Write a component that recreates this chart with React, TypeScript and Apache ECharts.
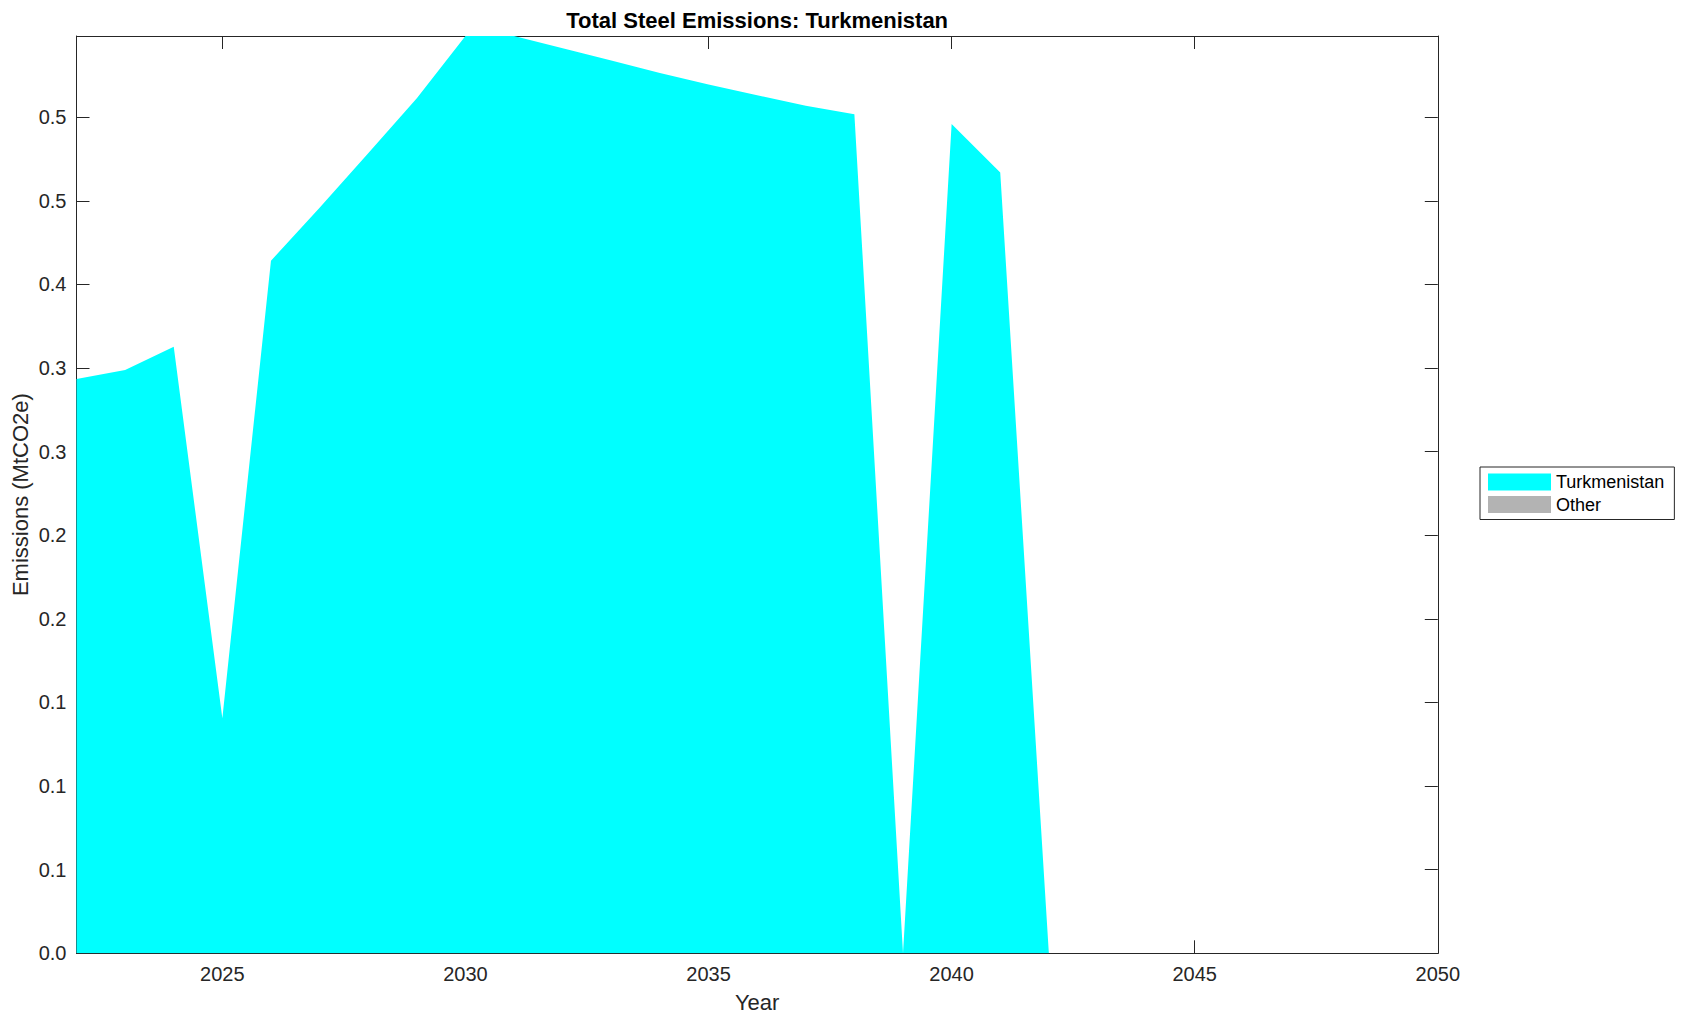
import React, { useEffect, useRef } from "react";
import * as echarts from "echarts";

const years = [
  2022, 2023, 2024, 2025, 2026, 2027, 2028, 2029, 2030, 2031, 2032, 2033, 2034, 2035, 2036,
  2037, 2038, 2039, 2040, 2041, 2042, 2043, 2044, 2045, 2046, 2047, 2048, 2049, 2050,
];
const turkmenistan = [
  0.3435, 0.3489, 0.3628, 0.1406, 0.4142, 0.4459, 0.4785, 0.5114, 0.5486, 0.5486, 0.5413,
  0.5339, 0.5264, 0.5196, 0.5132, 0.5069, 0.5018, 0, 0.4959, 0.4669, 0, 0, 0, 0, 0, 0, 0, 0, 0,
];
const other = [
  0, 0, 0, 0, 0, 0, 0, 0, 0, 0, 0, 0, 0, 0, 0, 0, 0, 0, 0, 0, 0, 0, 0, 0, 0, 0, 0, 0, 0,
];
const xTickValues = [2025, 2030, 2035, 2040, 2045, 2050];
const yTickValues = [0, 0.05, 0.1, 0.15, 0.2, 0.25, 0.3, 0.35, 0.4, 0.45, 0.5];
const yTickLabels = ["0.0", "0.1", "0.1", "0.1", "0.2", "0.2", "0.3", "0.3", "0.4", "0.5", "0.5"];
const seriesNames = ["Turkmenistan", "Other"];
const seriesColors = ["#00FFFF", "#B3B3B3"];
const titleText = "Total Steel Emissions: Turkmenistan";
const xName = "Year";
const yName = "Emissions (MtCO2e)";

const FONT = "'Liberation Sans', Arial, Helvetica, sans-serif";
const AX = "#262626";
const W = 1691;
const H = 1021;
const GL = 76.5;
const GR = 1437.8;
const GT = 36;
const GB = 953.3;

export default function App() {
  const ref = useRef<HTMLDivElement>(null);
  useEffect(() => {
    if (!ref.current) return;
    const chart = echarts.init(ref.current, undefined, { renderer: "svg", width: W, height: H });
    const tickStyle = { color: AX, width: 1 };
    const xBase = {
      type: "value",
      min: 2022,
      max: 2050,
      splitLine: { show: false },
      axisLine: { show: true, onZero: false, lineStyle: tickStyle },
    };
    const yBase = {
      type: "value",
      min: 0,
      max: 0.5486,
      splitLine: { show: false },
      axisLine: { show: true, onZero: false, lineStyle: tickStyle },
    };
    const series = [turkmenistan, other].map((vals, i) => ({
      name: seriesNames[i],
      type: "line",
      stack: "total",
      data: years.map((y, k) => [y, vals[k]]),
      showSymbol: false,
      symbol: "none",
      color: seriesColors[i],
      itemStyle: { color: seriesColors[i] },
      lineStyle: { width: 0, color: seriesColors[i] },
      areaStyle: { color: seriesColors[i], opacity: 1 },
      xAxisIndex: 0,
      yAxisIndex: 0,
      silent: true,
    }));
    chart.setOption({
      animation: false,
      backgroundColor: "#ffffff",
      grid: {
        left: GL,
        right: W - GR,
        top: GT,
        bottom: H - GB,
        containLabel: false,
        outerBoundsMode: "none",
      },
      xAxis: [
        {
          ...xBase,
          position: "bottom",
          axisTick: { show: true, inside: true, length: 13, customValues: xTickValues, lineStyle: tickStyle },
          axisLabel: {
            show: true,
            customValues: xTickValues,
            margin: 11,
            fontSize: 20,
            color: AX,
            fontFamily: FONT,
            formatter: (v: number) => String(v),
          },
        },
        {
          ...xBase,
          position: "top",
          axisTick: { show: true, inside: true, length: 13, customValues: xTickValues, lineStyle: tickStyle },
          axisLabel: { show: false },
        },
      ],
      yAxis: [
        {
          ...yBase,
          position: "left",
          axisTick: { show: true, inside: true, length: 13, customValues: yTickValues, lineStyle: tickStyle },
          axisLabel: {
            show: true,
            customValues: yTickValues,
            margin: 10,
            fontSize: 20,
            color: AX,
            fontFamily: FONT,
            formatter: (v: number) => {
              const idx = yTickValues.findIndex((t) => Math.abs(t - v) < 1e-9);
              return idx >= 0 ? yTickLabels[idx] : "";
            },
          },
        },
        {
          ...yBase,
          position: "right",
          axisTick: { show: true, inside: true, length: 13, customValues: yTickValues, lineStyle: tickStyle },
          axisLabel: { show: false },
        },
      ],
      legend: {
        show: true,
        data: seriesNames,
        orient: "vertical",
        left: 1480,
        top: 467,
        icon: "rect",
        itemWidth: 63,
        itemHeight: 17,
        itemGap: 4.5,
        padding: [6, 10, 6, 8],
        borderColor: AX,
        borderWidth: 1,
        backgroundColor: "#ffffff",
        itemStyle: { borderWidth: 0 },
        selectedMode: false,
        textStyle: { fontSize: 18, fontFamily: FONT, color: "#000000", lineHeight: 17 },
      },
      graphic: [
        {
          type: "text",
          x: (GL + GR) / 2,
          y: 20,
          style: {
            text: titleText,
            fontSize: 22,
            fontWeight: "bold",
            fontFamily: FONT,
            fill: "#000000",
            align: "center",
            verticalAlign: "middle",
          },
        },
        {
          type: "text",
          x: (GL + GR) / 2,
          y: 1002,
          style: {
            text: xName,
            fontSize: 22,
            fontFamily: FONT,
            fill: AX,
            align: "center",
            verticalAlign: "middle",
          },
        },
        {
          type: "text",
          x: 20.5,
          y: (GT + GB) / 2,
          rotation: Math.PI / 2,
          style: {
            text: yName,
            fontSize: 22,
            fontFamily: FONT,
            fill: AX,
            align: "center",
            verticalAlign: "middle",
          },
        },
      ],
      series,
    });
    return () => chart.dispose();
  }, []);
  return (
    <div
      ref={ref}
      style={{ position: "fixed", left: 0, top: 0, width: W, height: H, background: "#fff" }}
    />
  );
}
